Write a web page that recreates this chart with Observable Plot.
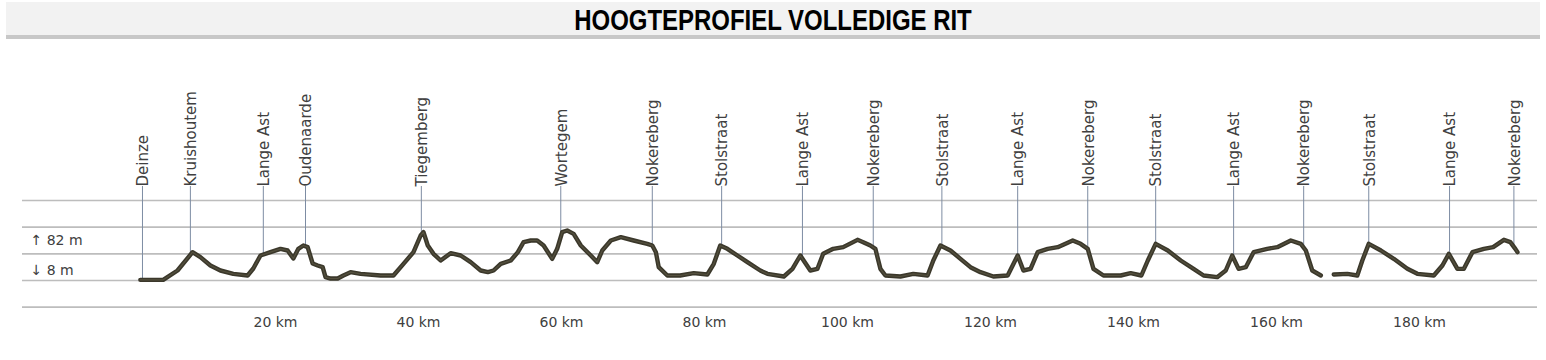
<!DOCTYPE html>
<html>
<head>
<meta charset="utf-8">
<script src="https://cdn.jsdelivr.net/npm/d3@7"></script>
<script src="https://cdn.jsdelivr.net/npm/@observablehq/plot@0.6"></script>
<style>
  html, body { margin: 0; padding: 0; background: #fff; width: 1546px; height: 360px; overflow: hidden; }
  #bar { position: absolute; left: 6px; top: 2px; width: 1534px; height: 33px; background: #f2f2f2; }
  #barline { position: absolute; left: 6px; top: 35px; width: 1534px; height: 4px; background: #c8c8c8; }
  #title { position: absolute; left: 773px; top: 5.5px; white-space: nowrap; font-family: "Liberation Sans", Arial, sans-serif;
           font-weight: bold; font-size: 29px; line-height: 29px; color: #000; transform: translateX(-50%) scaleX(0.826); transform-origin: center; }
  #chart { position: absolute; left: 0; top: 40px; }
</style>
</head>
<body>
<div id="bar"></div>
<div id="barline"></div>
<div id="title">HOOGTEPROFIEL VOLLEDIGE RIT</div>
<div id="chart"></div>
<script>
// Profile: distance (km) and elevation (m)
const profileKm = [1.1,4.3,6.3,8.4,9.5,10.9,12.3,14.1,16.1,16.9,17.9,19.3,20.7,21.7,22.5,23.2,23.9,24.5,25.2,25.9,26.6,27.0,27.7,28.7,29.5,30.5,31.9,34.7,36.5,37.9,39.3,40.3,40.7,41.3,42.1,43.1,44.5,45.9,47.3,48.7,49.7,50.5,51.5,52.9,53.9,54.7,55.7,56.6,57.5,58.7,59.4,60.1,60.8,61.7,62.7,64.1,65.0,65.7,66.9,68.3,70.1,72.0,72.7,73.2,73.6,74.8,76.6,78.5,80.4,81.3,82.2,83.2,84.6,86.0,87.8,88.8,91.1,92.3,93.4,94.8,95.8,96.6,98.0,99.4,101.4,102.2,103.2,103.9,104.6,105.3,107.4,109.2,111.2,112.0,113.0,114.4,115.8,117.2,118.6,120.4,122.4,123.8,124.6,125.6,126.6,128.0,129.4,131.5,132.6,133.6,134.4,135.8,138.2,139.6,141.1,142.0,143.1,144.8,146.6,148.4,149.8,151.7,152.9,153.8,154.7,155.7,156.8,158.7,160.1,162.0,163.4,164.1,165.0,166.2,167.1,168.0,169.9,171.3,172.0,172.9,174.6,176.4,178.3,179.7,182.0,183.2,184.1,185.3,186.2,187.4,189.0,190.3,191.8,192.7,193.4,193.7];
const profileM  = [1,1,15,42.5,35,22.5,15,10,7.5,18,37.5,42.5,47.5,45,33,47.5,52.5,50,25.5,22.5,20,5,3,3,7.5,12.5,10,7.5,7.5,25,42.5,67.5,72.5,52.5,40,30,41,37.5,27.5,15,12.5,15,25,30,42.5,57.5,60,60,52.5,32.5,47.5,72.5,75,70,52.5,37.5,27.5,45,60,65,60,55,52.5,42.5,20,7.5,7.5,11,9,25,52.5,47.5,37.5,27.5,15,10,6,17.5,37.5,15,17.5,40,47.5,50,61,57.5,52.5,47.5,17.5,7.5,6,10,7.5,30,52.5,45,32.5,20,12.5,6,7.5,37.5,15,17.5,42.5,47.5,50,60,55,47.5,17.5,7.5,7.5,11,7.5,30,55,45,30,17.5,7.5,5,15,37.5,17.5,20,42.5,47.5,50,60,55,45,15,7.5,NaN,9,10,7.5,30,55,45,32.5,17.5,10,7.5,22.5,40,17.5,17.5,42.5,47.5,50,61,57.5,47.5,42.5];

// Climbs / places along the route
const climbNames = ["Deinze","Kruishoutem","Lange Ast","Oudenaarde","Tiegemberg","Wortegem","Nokereberg","Stolstraat","Lange Ast","Nokereberg","Stolstraat","Lange Ast","Nokereberg","Stolstraat","Lange Ast","Nokereberg","Stolstraat","Lange Ast","Nokereberg"];
const climbKm    = [1.4,8.1,18.3,24.2,40.4,59.9,72.7,82.4,93.7,103.6,113.2,123.8,133.6,143.1,154.0,163.8,172.9,184.2,193.2];

// Axis ticks and elevation summary
const kmTicks = [20,40,60,80,100,120,140,160,180];
const gridM = [-40,0,40,80,120];
const elevLabels = ["\u2191 82 m", "\u2193 8 m"];
const elevLabelM = [60, 15];
const labelTopM = 141;

const profile = profileKm.map((km, i) => ({km, m: profileM[i]}));
const defined = profile.filter(d => !isNaN(d.m));
const bis = d3.bisector(d => d.km).left;
function elevAt(km) {
  const i = Math.max(1, Math.min(defined.length - 1, bis(defined, km)));
  const a = defined[i - 1], b = defined[i];
  const t = (km - a.km) / (b.km - a.km);
  return a.m + t * (b.m - a.m);
}
const climbs = climbNames.map((name, i) => ({name, km: climbKm[i], foot: elevAt(climbKm[i])}));
const elev = elevLabels.map((t, i) => ({t, m: elevLabelM[i]}));

const chart = Plot.plot({
  width: 1546,
  height: 320,
  marginLeft: 22,
  marginRight: 9,
  marginTop: 133.33,
  marginBottom: 53.33,
  x: {domain: [-15.38, 196.5], axis: null},
  y: {domain: [-40, 160], axis: null},
  style: {fontFamily: "DejaVu Sans, sans-serif", fontSize: "14px", background: "transparent", overflow: "visible", color: "#3a3a3a"},
  marks: [
    Plot.ruleY(gridM, {stroke: "#bdbdbd", strokeWidth: 1.6}),
    Plot.ruleX(climbs, {x: "km", y1: "foot", y2: labelTopM, stroke: "#7d8ca3", strokeWidth: 1}),
    Plot.line(profile, {x: "km", y: "m", stroke: "#3b382b", strokeWidth: 4.4, strokeLinejoin: "round", strokeLinecap: "round"}),
    Plot.line(profile, {x: "km", y: "m", stroke: "#55513f", strokeWidth: 1.2, strokeLinejoin: "round"}),
    Plot.text(climbs, {x: "km", y: labelTopM, text: "name", rotate: -90, textAnchor: "start", fontSize: 15, dx: 1, fill: "#404040"}),
    Plot.axisX(kmTicks, {tickSize: 0, tickPadding: 10, tickFormat: d => `${d} km`, fontSize: 14, fill: "#404040", label: null}),
    Plot.text(elev, {frameAnchor: "left", y: "m", text: "t", dx: 8, textAnchor: "start", fontSize: 14, fill: "#404040"})
  ]
});
document.getElementById("chart").appendChild(chart);
</script>
</body>
</html>
